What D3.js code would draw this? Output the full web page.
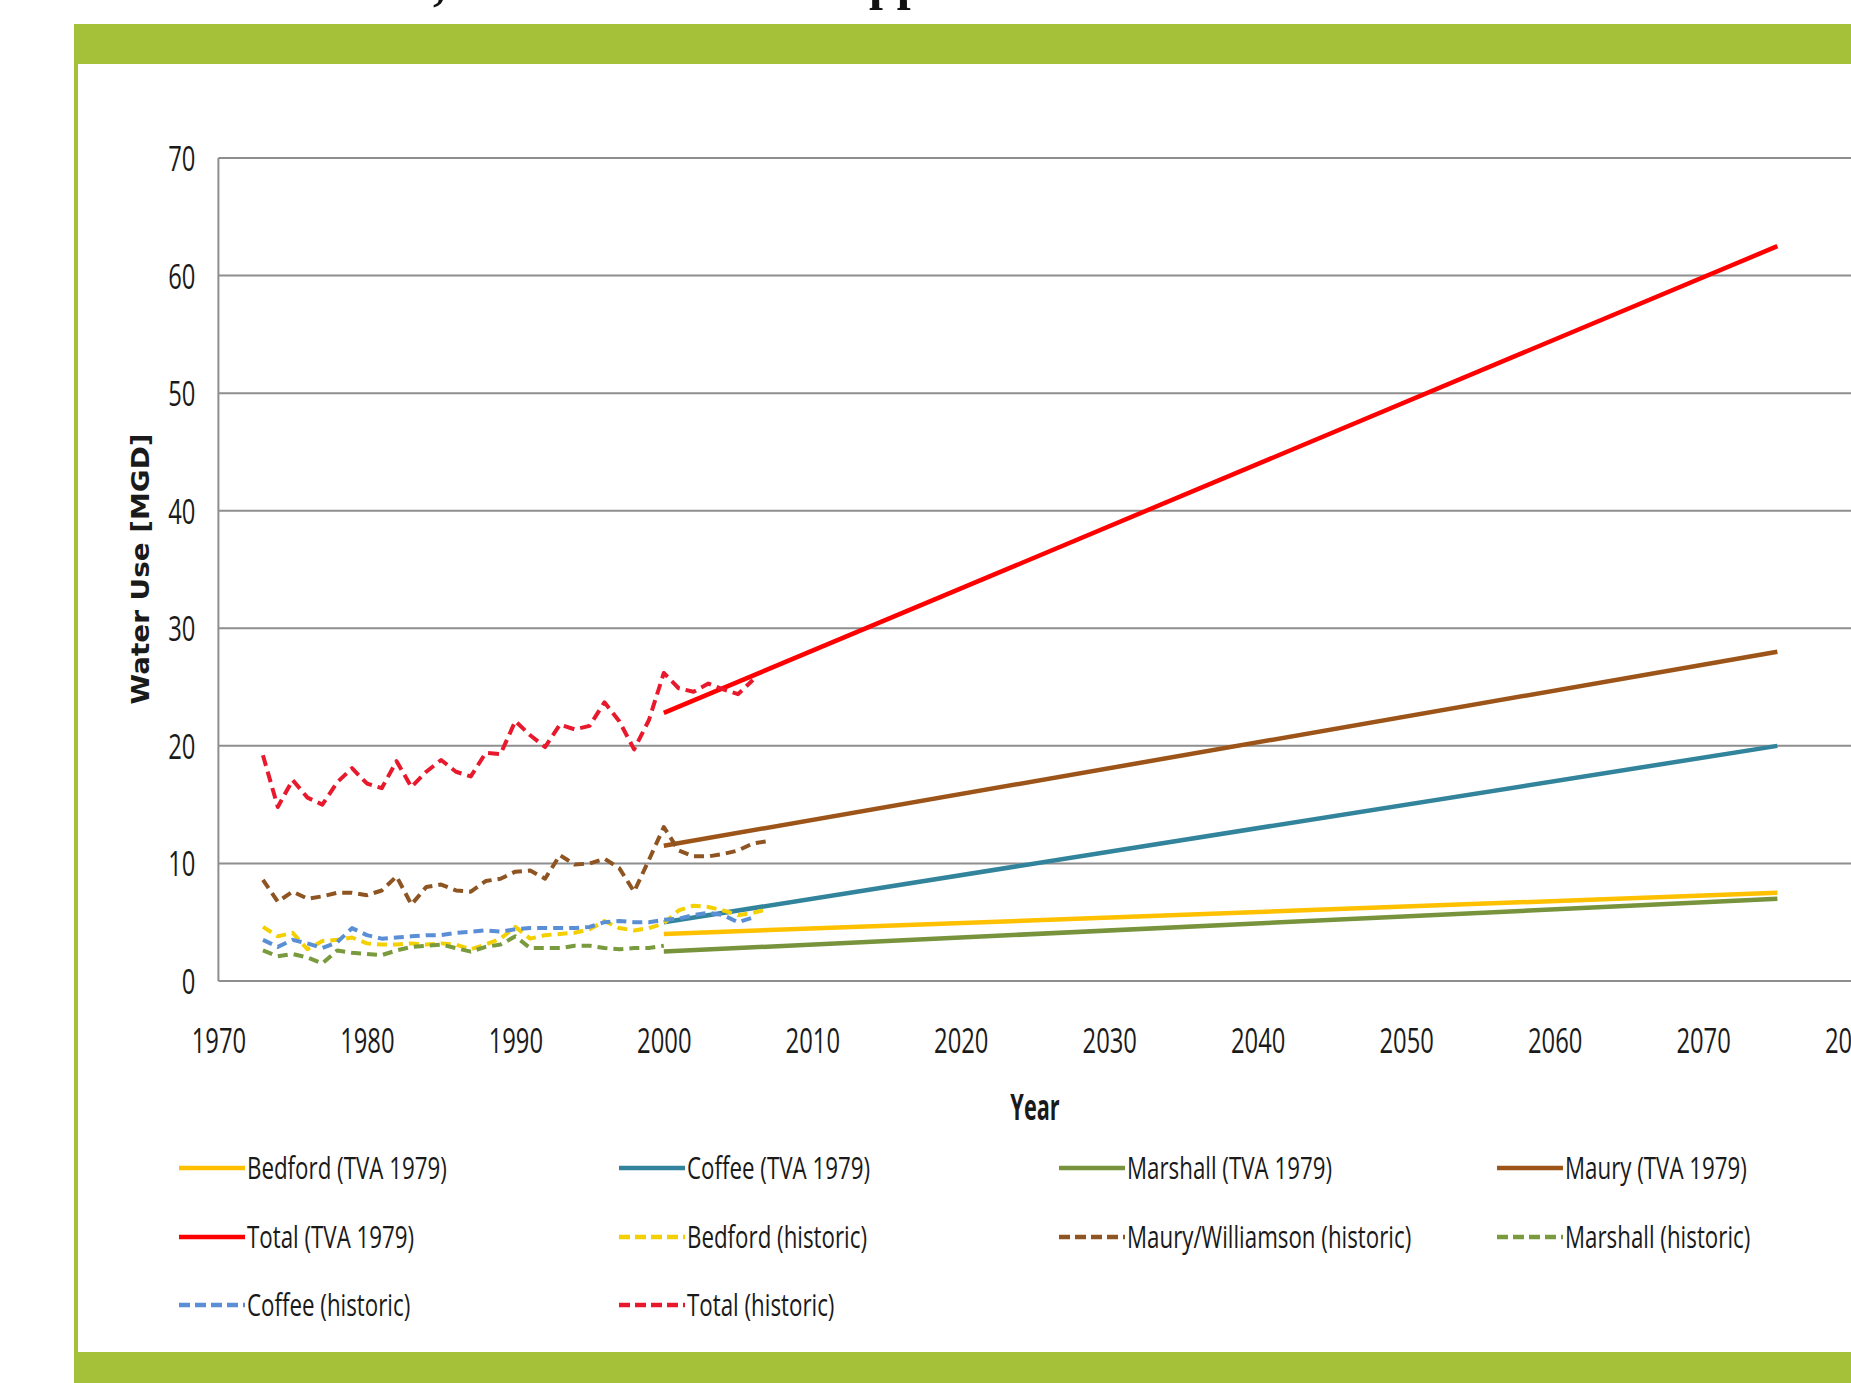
<!DOCTYPE html>
<html><head><meta charset="utf-8">
<script src="https://cdn.jsdelivr.net/npm/d3@7"></script>
<style>html,body{margin:0;padding:0;background:#fff;overflow:hidden}</style>
</head><body>
<svg id="c" width="1851" height="1383"></svg>
<script>
// ---------- DATA ----------
const xTicks = [1970,1980,1990,2000,2010,2020,2030,2040,2050,2060,2070,2080];
const yTicks = [0,10,20,30,40,50,60,70];

const projYears     = [2000, 2075];
const bedfordProj   = [4.0, 7.5];
const coffeeProj    = [5.0, 20.0];
const marshallProj  = [2.5, 7.0];
const mauryProj     = [11.5, 28.0];
const totalProj     = [22.8, 62.5];

const histYears = [1973,1974,1975,1976,1977,1978,1979,1980,1981,1982,1983,1984,1985,1986,1987,1988,1989,1990,1991,1992,1993,1994,1995,1996,1997,1998,1999,2000,2001,2002,2003,2004,2005,2006,2007];
const bedfordHist  = [4.6,3.8,4.1,2.7,3.4,3.5,3.7,3.2,3.1,3.1, 3.2,3.1,3.2,3.1,2.7,3.1,3.6,4.6,3.6,3.9, 4.0,4.1,4.4,5.1,4.5,4.3,4.5,4.9,6.0,6.4, 6.3,6.0,5.6,5.8,6.1];
const mauryHist    = [8.6,6.75,7.6,7.0,7.2,7.5,7.5,7.3,7.7,8.9, 6.5,8.0,8.2,7.7,7.6,8.5,8.7,9.3,9.4,8.7, 10.7,9.9,10.0,10.4,9.6,7.6,10.3,13.1,11.1,10.6, 10.6,10.8,11.1,11.7,11.9];
const marshallHist = [2.6,2.1,2.3,2.0,1.5,2.6,2.4,2.3,2.2,2.6, 2.9,3.0,3.1,2.8,2.5,2.9,3.1,3.8,2.8,2.8, 2.8,3.0,3.0,2.8,2.7,2.8,2.8,3.0];
const coffeeHist   = [3.5,2.9,3.5,3.2,2.8,3.3,4.5,3.9,3.6,3.7, 3.8,3.9,3.9,4.1,4.2,4.3,4.2,4.4,4.5,4.5, 4.5,4.5,4.6,5.0,5.1,5.0,5.0,5.2,5.3,5.6, 5.8,5.6,5.0,5.4];
const totalHist    = [19.2,14.8,17.1,15.6,15.0,16.9,18.1,16.8,16.4,18.7, 16.5,17.8,18.8,17.8,17.4,19.4,19.3,22.1,20.9,19.9, 21.8,21.4,21.7,23.7,22.1,19.7,22.2,26.2,24.9,24.6, 25.3,24.8,24.4,25.6];

const seriesNames = ["Bedford (TVA 1979)","Coffee (TVA 1979)","Marshall (TVA 1979)","Maury (TVA 1979)","Total (TVA 1979)",
  "Bedford (historic)","Maury/Williamson (historic)","Marshall (historic)","Coffee (historic)","Total (historic)"];
const seriesColors = ["#FFC000","#31849B","#77933C","#9C5418","#FF0000","#F5D000","#8E5421","#7A9A3E","#5A8FD6","#E8192C"];

// ---------- BUILD SERIES ----------
const series = [
  {name:seriesNames[0], color:seriesColors[0], years:projYears, vals:bedfordProj, dash:null},
  {name:seriesNames[1], color:seriesColors[1], years:projYears, vals:coffeeProj, dash:null},
  {name:seriesNames[2], color:seriesColors[2], years:projYears, vals:marshallProj, dash:null},
  {name:seriesNames[3], color:seriesColors[3], years:projYears, vals:mauryProj, dash:null},
  {name:seriesNames[4], color:seriesColors[4], years:projYears, vals:totalProj, dash:null},
  {name:seriesNames[5], color:seriesColors[5], years:histYears, vals:bedfordHist, dash:"10,6"},
  {name:seriesNames[6], color:seriesColors[6], years:histYears, vals:mauryHist, dash:"10,6"},
  {name:seriesNames[7], color:seriesColors[7], years:histYears, vals:marshallHist, dash:"10,6"},
  {name:seriesNames[8], color:seriesColors[8], years:histYears, vals:coffeeHist, dash:"10,6"},
  {name:seriesNames[9], color:seriesColors[9], years:histYears, vals:totalHist, dash:"11,6"}
];

const svg = d3.select("#c");
const GREEN = "#A5C13A";
const SX = 0.68;
const FONT = "'Open Sans', 'Liberation Sans', sans-serif";

// frame
svg.append("rect").attr("x",74).attr("y",24).attr("width",1851-74).attr("height",40).attr("fill",GREEN);
svg.append("rect").attr("x",74).attr("y",1352).attr("width",1851-74).attr("height",31).attr("fill",GREEN);
svg.append("rect").attr("x",74).attr("y",64).attr("width",4).attr("height",1288).attr("fill",GREEN);

// clipped title descenders above the frame
svg.append("text").attr("x",433).attr("y",-1).attr("font-family","'Liberation Serif',serif").attr("font-weight","bold")
  .attr("font-size",50).attr("fill","#111").text(",");
svg.append("text").attr("x",869).attr("y",-1).attr("font-family","'Liberation Serif',serif").attr("font-weight","bold")
  .attr("font-size",50).attr("fill","#111").text("pp");

// scales
const x = d3.scaleLinear().domain([1970,2080]).range([218.4,1851.6]);
const y = d3.scaleLinear().domain([0,70]).range([981,158]);

// gridlines
const grid = svg.append("g");
grid.selectAll("line").data(yTicks).join("line")
  .attr("x1",x(1970)).attr("x2",1851).attr("y1",d=>y(d)).attr("y2",d=>y(d))
  .attr("stroke","#8E8E8E").attr("stroke-width",2);
// y axis line
svg.append("line").attr("x1",x(1970)).attr("x2",x(1970)).attr("y1",y(70)).attr("y2",y(0))
  .attr("stroke","#8E8E8E").attr("stroke-width",2);

// axes (labels only)
const xAxis = svg.append("g").attr("transform",`translate(0,${y(0)})`)
  .call(d3.axisBottom(x).tickValues(xTicks).tickFormat(d3.format("d")).tickSize(0));
xAxis.select(".domain").remove();
xAxis.selectAll("text").attr("y",72).attr("dy",null)
  .attr("font-family",FONT).attr("font-size",35).attr("fill","#1a1a1a")
  .attr("transform",`scale(${SX},1)`);

const yAxis = svg.append("g").attr("transform",`translate(${x(1970)},0)`)
  .call(d3.axisLeft(y).tickValues(yTicks).tickFormat(d3.format("d")).tickSize(0));
yAxis.select(".domain").remove();
yAxis.selectAll("text").attr("x",0).attr("dy",null).attr("y",12.5).attr("text-anchor","end")
  .attr("font-family",FONT).attr("font-size",35).attr("fill","#1a1a1a")
  .attr("transform",`translate(-23,0) scale(${SX},1)`);

// axis titles
svg.append("text").attr("transform","translate(149,569) rotate(-90)")
  .attr("text-anchor","middle").attr("font-family","'DejaVu Sans',sans-serif").attr("font-weight","bold")
  .attr("font-size",25).attr("textLength",271).attr("lengthAdjust","spacingAndGlyphs").attr("fill","#1a1a1a")
  .text("Water Use [MGD]");
svg.append("text").attr("transform",`translate(1035,1120) scale(0.62,1)`)
  .attr("text-anchor","middle").attr("font-family",FONT).attr("font-weight","bold")
  .attr("font-size",35).attr("fill","#1a1a1a").text("Year");

// lines
const line = d3.line().x(d=>x(d[0])).y(d=>y(d[1]));
const lines = svg.append("g");
series.forEach(s=>{
  const pts = s.vals.map((v,i)=>[s.years[i], v]);
  lines.append("path").attr("d",line(pts)).attr("fill","none")
    .attr("stroke",s.color).attr("stroke-width", s.dash ? 4 : 4.5)
    .attr("stroke-dasharray", s.dash)
    .attr("stroke-linejoin","round");
});

// legend
const legCols = [179, 619, 1059, 1497];
const legRows = [1168, 1237, 1305];
const leg = svg.append("g");
series.forEach((s,i)=>{
  const cx = legCols[i%4], cy = legRows[Math.floor(i/4)];
  leg.append("line").attr("x1",cx).attr("x2",cx+66).attr("y1",cy).attr("y2",cy)
    .attr("stroke",s.color).attr("stroke-width",4.5).attr("stroke-dasharray", s.dash ? "11,5" : null);
  leg.append("text").attr("transform",`translate(${cx+68},${cy+11}) scale(0.72,1)`)
    .attr("font-family",FONT).attr("font-size",31).attr("fill","#1a1a1a").text(s.name);
});
</script>
</body></html>
